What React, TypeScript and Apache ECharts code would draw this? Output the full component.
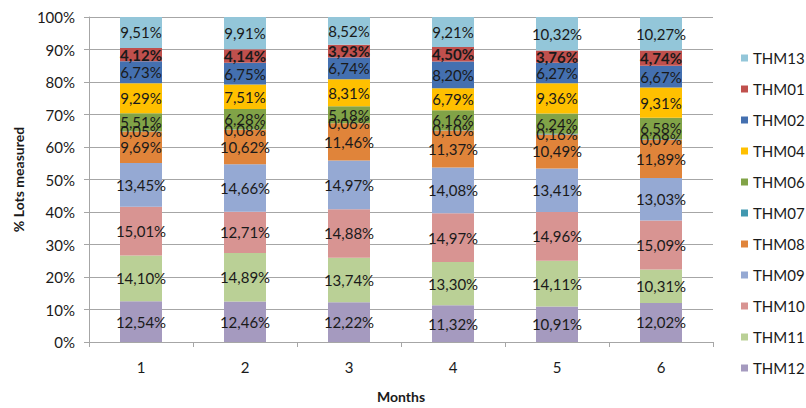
import React, { useEffect, useRef } from "react";
import * as echarts from "echarts";

const months = ["1", "2", "3", "4", "5", "6"];

// bottom to top stacking order
const THM12 = [12.54, 12.46, 12.22, 11.32, 10.91, 12.02];
const THM11 = [14.1, 14.89, 13.74, 13.3, 14.11, 10.31];
const THM10 = [15.01, 12.71, 14.88, 14.97, 14.96, 15.09];
const THM09 = [13.45, 14.66, 14.97, 14.08, 13.41, 13.03];
const THM08 = [9.69, 10.62, 11.46, 11.37, 10.49, 11.89];
const THM07 = [0.05, 0.08, 0.06, 0.1, 0.16, 0.09];
const THM06 = [5.51, 6.28, 5.18, 6.16, 6.24, 6.58];
const THM04 = [9.29, 7.51, 8.31, 6.79, 9.36, 9.31];
const THM02 = [6.73, 6.75, 6.74, 8.2, 6.27, 6.67];
const THM01 = [4.12, 4.14, 3.93, 4.5, 3.76, 4.74];
const THM13 = [9.51, 9.91, 8.52, 9.21, 10.32, 10.27];

const yTicks = [0, 10, 20, 30, 40, 50, 60, 70, 80, 90, 100];

const seriesDefs: [string, number[], string][] = [
  ["THM12", THM12, "#A59ABF"],
  ["THM11", THM11, "#BAD096"],
  ["THM10", THM10, "#D89492"],
  ["THM09", THM09, "#95A9D3"],
  ["THM08", THM08, "#E0843A"],
  ["THM07", THM07, "#4198B0"],
  ["THM06", THM06, "#81A347"],
  ["THM04", THM04, "#FFC000"],
  ["THM02", THM02, "#4470B0"],
  ["THM01", THM01, "#C0504D"],
  ["THM13", THM13, "#93C6D9"],
];

const FONT = "Lato, 'Open Sans', sans-serif";

export default function App() {
  const ref = useRef<HTMLDivElement>(null);
  useEffect(() => {
    document.body.style.margin = "0";
    if (!ref.current) return;
    const chart = echarts.init(ref.current, undefined, { renderer: "svg" });
    chart.setOption({
      animation: false,
      textStyle: { fontFamily: FONT },
      grid: { left: 89, right: 93, top: 17, bottom: 57, containLabel: false },
      legend: {
        orient: "vertical",
        left: 741,
        top: 50,
        padding: 0,
        itemWidth: 7,
        itemHeight: 7,
        itemGap: 15,
        icon: "rect",
        data: seriesDefs.map((s) => s[0]).reverse(),
        textStyle: { fontSize: 15, lineHeight: 16, color: "#1a1a1a", fontFamily: FONT, width: 60, overflow: "none" },
      },
      xAxis: {
        type: "category",
        data: months,
        name: "Months",
        nameLocation: "middle",
        nameGap: 47,
        nameTextStyle: { fontWeight: "bold", fontSize: 14, color: "#1a1a1a", fontFamily: FONT },
        axisLine: { lineStyle: { color: "#A6A6A6" } },
        axisTick: { show: true, length: 5, alignWithLabel: false, lineStyle: { color: "#A6A6A6" } },
        axisLabel: { fontSize: 15, color: "#1a1a1a", margin: 17, fontFamily: FONT },
      },
      yAxis: {
        type: "value",
        min: yTicks[0],
        max: yTicks[yTicks.length - 1],
        interval: 10,
        name: "% Lots measured",
        nameLocation: "middle",
        nameGap: 63,
        nameTextStyle: { fontWeight: "bold", fontSize: 14, color: "#1a1a1a", fontFamily: FONT },
        axisLine: { show: true, lineStyle: { color: "#A6A6A6" } },
        axisTick: { show: true, length: 5, lineStyle: { color: "#A6A6A6" } },
        axisLabel: { fontSize: 15, color: "#1a1a1a", margin: 14, formatter: "{value}%", fontFamily: FONT },
        splitLine: { lineStyle: { color: "#A6A6A6" } },
      },
      series: seriesDefs.map(([name, data, color]) => ({
        name,
        type: "bar",
        stack: "total",
        barWidth: 42,
        data,
        itemStyle: { color },
        label: {
          show: true,
          position: "inside",
          fontSize: 15,
          color: "#1a1a1a",
          fontFamily: FONT,
          fontWeight: name === "THM01" ? "bold" : "normal",
          formatter: (p: any) => p.value.toFixed(2).replace(".", ",") + "%",
        },
        labelLayout: { hideOverlap: false },
      })),
    });
    return () => chart.dispose();
  }, []);
  return <div ref={ref} style={{ width: 806, height: 408 }} />;
}
